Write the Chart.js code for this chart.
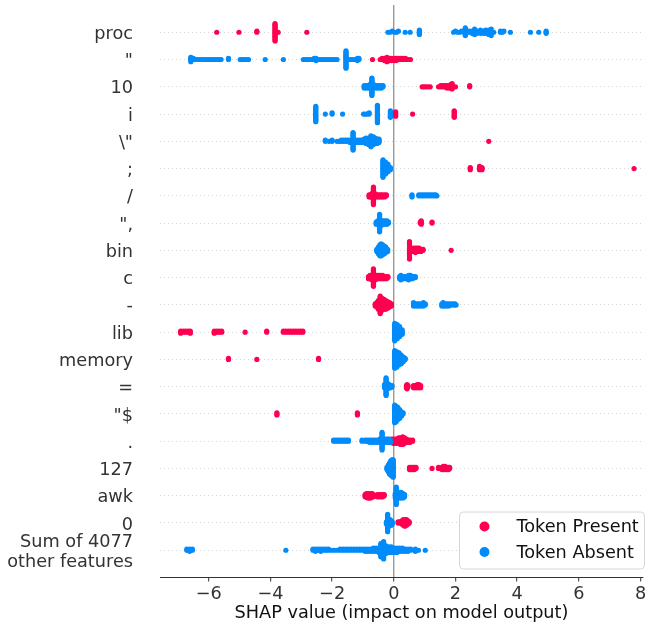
<!DOCTYPE html>
<html>
<head>
<meta charset="utf-8">
<script src="https://cdn.jsdelivr.net/npm/chart.js@4.4.1/dist/chart.umd.min.js"></script>
<style>
  html, body { margin: 0; padding: 0; background: #fff; }
  #wrap { width: 648px; height: 629px; }
</style>
</head>
<body>
<div id="wrap"><canvas id="c" width="648" height="629"></canvas></div>
<script>
// ---- Data (SHAP values; pairs are [value, count]) ----
const features = ['proc', '"', '10', 'i', '\\"', ';', '/', '",', 'bin', 'c', '-', 'lib', 'memory', '=', '"$', '.', '127', 'awk', '0', ['Sum of 4077', 'other features']];
const xTicks = [-6, -4, -2, 0, 2, 4, 6, 8];
const seriesNames = ['Token Present', 'Token Absent'];

const procPresent = [[-5.74,1],[-5.02,1],[-4.44,2],[-3.85,17],[-3.75,1],[-2.82,1]];
const procAbsent = [[-0.19,1],[-0.12,1],[-0.05,1],[0.02,1],[0.09,1],[0.15,1],[0.37,1],[0.53,1],[0.83,5],
  [1.94,1],[2.0,1],[2.07,1],[2.14,1],[2.2,1],[2.27,2],[2.32,6],[2.38,2],[2.45,2],[2.54,3],[2.62,3],[2.7,3],[2.81,4],[2.9,3],[2.98,4],[3.08,5],[3.16,2],[3.24,1],[3.46,2],[3.52,1],[3.57,1],[3.78,1],[4.43,1],[4.7,1],[4.94,3]];

const quotePresent = [[-0.69,1],[-0.44,1],[-0.38,2],[-0.3,3],[-0.22,5],[-0.15,3],[-0.08,3],[0.0,3],[0.08,3],[0.15,2],[0.23,2],[0.3,2],[0.38,2],[0.46,1],[0.54,1]];
const quoteAbsent = [[-6.58,5],[-6.5,2],[-6.43,1],[-6.36,1],[-6.29,1],[-6.22,1],[-6.15,1],[-6.08,1],[-6.01,1],[-5.94,1],[-5.87,1],[-5.8,1],[-5.73,1],[-5.66,1],[-5.6,1],[-5.36,2],
  [-4.98,1],[-4.92,1],[-4.85,1],[-4.78,1],[-4.71,1],[-4.17,1],[-3.58,1],[-2.93,1],[-2.86,1],[-2.79,1],[-2.72,1],[-2.65,1],[-2.58,2],[-2.52,3],[-2.45,1],[-2.38,1],[-2.31,1],[-2.24,1],[-2.17,1],[-2.1,1],[-2.03,1],[-1.96,1],[-1.9,1],[-1.84,1],
  [-1.55,17],[-1.47,1],[-1.4,1],[-1.33,1],[-1.25,1],[-1.18,3],[-1.13,2]];

const tenPresent = [[0.92,1],[0.98,1],[1.04,1],[1.11,1],[1.18,1],[1.45,1],[1.52,2],[1.58,2],[1.65,2],[1.72,3],[1.79,3],[1.85,4],[1.89,6],[2.0,1],[2.46,2]];
const tenAbsent = [[-0.96,3],[-0.9,3],[-0.84,3],[-0.78,4],[-0.71,17],[-0.65,4],[-0.58,3],[-0.52,3],[-0.45,3],[-0.4,3],[-0.35,2]];

const iPresent = [[0.06,5],[0.61,1],[1.96,7]];
const iAbsent = [[-2.53,15],[-2.22,1],[-2.0,2],[-1.66,1],[-0.98,1],[-0.92,1],[-0.86,1],[-0.8,2],[-0.53,17],[-0.11,7]];

const escQuotePresent = [[3.08,1]];
const escQuoteAbsent = [[-2.22,2],[-2.1,1],[-2.0,2],[-1.84,1],[-1.77,1],[-1.7,2],[-1.63,2],[-1.56,2],[-1.49,2],[-1.42,3],[-1.32,17],[-1.25,3],[-1.18,3],[-1.1,3],[-1.03,3],[-0.96,4],[-0.9,6],[-0.82,7],[-0.74,11],[-0.66,8],[-0.6,6],[-0.54,5],[-0.48,4]];

const semiPresent = [[2.48,3],[2.78,4],[2.86,3],[7.79,1]];
const semiAbsent = [[-0.35,17],[-0.27,12],[-0.19,8],[-0.11,3]];

const slashPresent = [[-0.8,3],[-0.75,3],[-0.71,4],[-0.66,17],[-0.61,4],[-0.55,3],[-0.49,3],[-0.43,3],[-0.37,3],[-0.3,3],[-0.24,2]];
const slashAbsent = [[0.59,3],[0.81,2],[0.88,2],[0.95,2],[1.02,2],[1.09,2],[1.16,2],[1.23,2],[1.3,2],[1.36,2],[1.4,1]];

const quoteCommaPresent = [[0.86,2],[0.89,4],[1.24,2]];
const quoteCommaAbsent = [[-0.57,3],[-0.52,4],[-0.46,17],[-0.4,5],[-0.34,4],[-0.28,4],[-0.22,4],[-0.17,2]];

const binPresent = [[0.51,17],[0.58,3],[0.64,4],[0.7,5],[0.76,4],[0.82,4],[0.88,3],[0.95,2],[1.86,1]];
const binAbsent = [[-0.55,3],[-0.5,7],[-0.45,11],[-0.41,12],[-0.36,10],[-0.31,8],[-0.26,6],[-0.2,3]];

const cPresent = [[-0.82,3],[-0.77,4],[-0.71,5],[-0.66,17],[-0.6,5],[-0.54,4],[-0.48,4],[-0.42,4],[-0.36,4],[-0.3,3],[-0.24,3],[-0.19,2]];
const cAbsent = [[0.19,3],[0.23,5],[0.29,3],[0.35,3],[0.42,3],[0.48,5],[0.54,4],[0.6,3],[0.65,2],[0.7,2]];

const dashPresent = [[-0.6,3],[-0.55,5],[-0.5,9],[-0.44,17],[-0.38,12],[-0.32,10],[-0.26,9],[-0.2,7],[-0.14,5],[-0.08,3]];
const dashAbsent = [[0.64,4],[0.7,3],[0.77,3],[0.83,3],[0.9,3],[0.96,4],[1.02,2],[1.56,3],[1.6,4],[1.66,3],[1.72,3],[1.78,3],[1.85,2],[1.92,2],[1.98,2],[2.02,1]];

const libPresent = [[-6.91,3],[-6.83,2],[-6.75,2],[-6.67,2],[-6.6,3],[-5.82,3],[-5.74,2],[-5.66,2],[-5.58,2],[-4.82,1],[-4.12,2],
  [-3.58,2],[-3.5,2],[-3.42,2],[-3.34,2],[-3.26,2],[-3.18,2],[-3.1,2],[-3.02,2],[-2.95,2]];
const libAbsent = [[0.03,17],[0.11,14],[0.19,10],[0.27,5]];

const memoryPresent = [[-5.36,2],[-4.44,1],[-2.44,2]];
const memoryAbsent = [[0.03,17],[0.1,15],[0.17,12],[0.24,9],[0.31,5],[0.37,2]];

const equalsPresent = [[0.41,3],[0.43,5],[0.46,2],[0.64,3],[0.7,3],[0.76,4],[0.82,4],[0.87,3]];
const equalsAbsent = [[-0.3,4],[-0.25,17],[-0.2,6],[-0.15,4],[-0.1,3],[-0.06,2]];

const quoteDollarPresent = [[-3.79,3],[-1.18,3]];
const quoteDollarAbsent = [[0.03,17],[0.08,15],[0.13,12],[0.19,9],[0.25,5],[0.3,2]];

const dotPresent = [[-0.08,4],[-0.02,5],[0.04,5],[0.1,5],[0.16,6],[0.22,7],[0.29,8],[0.35,6],[0.41,4],[0.47,3],[0.53,3],[0.61,2]];
const dotAbsent = [[-1.95,2],[-1.88,2],[-1.81,2],[-1.74,2],[-1.67,2],[-1.6,2],[-1.53,2],[-1.47,2],[-1.03,2],[-0.93,2],[-0.86,2],[-0.79,3],[-0.72,3],[-0.65,3],[-0.58,3],[-0.51,3],[-0.45,4],[-0.38,17],[-0.32,4],[-0.26,4],[-0.2,4],[-0.15,4],[-0.11,3]];

const n127Present = [[0.51,3],[0.56,3],[0.62,3],[0.67,3],[0.72,2],[1.24,1],[1.45,2],[1.56,3],[1.61,4],[1.66,4],[1.72,3],[1.78,3],[1.81,2]];
const n127Absent = [[-0.22,3],[-0.18,7],[-0.14,11],[-0.1,14],[-0.06,16],[-0.02,17]];

const awkPresent = [[-0.93,3],[-0.89,4],[-0.85,5],[-0.8,5],[-0.75,5],[-0.7,4],[-0.66,3],[-0.53,3],[-0.47,3],[-0.41,3],[-0.36,3],[-0.31,2]];
const awkAbsent = [[0.05,5],[0.08,17],[0.13,6],[0.18,6],[0.24,6],[0.3,5],[0.35,3]];

const zeroPresent = [[0.14,2],[0.2,2],[0.26,4],[0.31,6],[0.36,7],[0.41,6],[0.46,4],[0.5,2]];
const zeroAbsent = [[-0.24,3],[-0.2,17],[-0.16,7],[-0.12,6],[-0.08,5],[-0.05,3]];

const sumPresent = [];
const sumAbsent = [[-6.71,2],[-6.62,3],[-6.53,2],[-3.5,1],[-2.62,2],[-2.54,3],[-2.45,2],[-2.37,3],[-2.28,2],[-2.2,2],[-2.12,2],[-2.03,1],[-1.94,1],[-1.84,1],
  [-1.74,2],[-1.65,2],[-1.56,2],[-1.47,2],[-1.38,2],[-1.29,2],[-1.2,2],[-1.11,2],[-1.02,2],[-0.93,3],[-0.84,3],[-0.75,3],[-0.66,4],[-0.57,4],[-0.48,5],[-0.42,8],[-0.33,17],[-0.25,8],
  [-0.16,6],[-0.08,6],[0.01,5],[0.1,5],[0.19,4],[0.28,4],[0.37,3],[0.46,3],[0.55,2],[0.7,3],[0.8,1],[1.02,1]];

const presentRows = [procPresent, quotePresent, tenPresent, iPresent, escQuotePresent, semiPresent, slashPresent, quoteCommaPresent, binPresent, cPresent, dashPresent, libPresent, memoryPresent, equalsPresent, quoteDollarPresent, dotPresent, n127Present, awkPresent, zeroPresent, sumPresent];
const absentRows = [procAbsent, quoteAbsent, tenAbsent, iAbsent, escQuoteAbsent, semiAbsent, slashAbsent, quoteCommaAbsent, binAbsent, cAbsent, dashAbsent, libAbsent, memoryAbsent, equalsAbsent, quoteDollarAbsent, dotAbsent, n127Absent, awkAbsent, zeroAbsent, sumAbsent];

const COLOR_PRESENT = '#ff0051';
const COLOR_ABSENT = '#008bfb';

// ---- Beeswarm layout (same binning/stacking rule as shap's beeswarm) ----
function swarmRow(rowIdx, absent, present, outAbsent, outPresent) {
  const pts = [];
  absent.forEach(([v, c]) => { for (let k = 0; k < c; k++) pts.push({ v, col: 0 }); });
  present.forEach(([v, c]) => { for (let k = 0; k < c; k++) pts.push({ v, col: 1 }); });
  if (!pts.length) return;
  const vals = pts.map(p => p.v);
  const mn = Math.min(...vals), mx = Math.max(...vals);
  const nbins = 100;
  pts.forEach((p, i) => { p.q = Math.round(nbins * (p.v - mn) / (mx - mn + 1e-8)); p.i = i; });
  const order = pts.slice().sort((a, b) => a.q - b.q || a.i - b.i);
  let layer = 0, last = -1;
  order.forEach(p => {
    if (p.q !== last) layer = 0;
    p.ys = Math.ceil(layer / 2) * ((layer % 2) * 2 - 1);
    layer++;
    last = p.q;
  });
  const maxY = Math.max(...pts.map(p => p.ys + 1));
  const scale = 0.9 * (0.4 / maxY);
  const base = features.length - 1 - rowIdx;
  pts.forEach(p => {
    const pt = { x: p.v, y: base + p.ys * scale };
    (p.col === 0 ? outAbsent : outPresent).push(pt);
  });
}

const absentPts = [], presentPts = [];
features.forEach((f, i) => swarmRow(i, absentRows[i], presentRows[i], absentPts, presentPts));

const FONT = 'DejaVu Sans';
const FS = 17.7;
Chart.defaults.font.family = FONT;

const legendPlugin = {
  id: 'boxLegend',
  afterDraw(chart) {
    const ctx = chart.ctx;
    const a = chart.chartArea;
    const w = 185, h = 57;
    const x = a.right - w + 1.5, y = a.bottom - h - 8.5;
    ctx.save();
    ctx.beginPath();
    const r = 4;
    ctx.moveTo(x + r, y);
    ctx.lineTo(x + w - r, y); ctx.quadraticCurveTo(x + w, y, x + w, y + r);
    ctx.lineTo(x + w, y + h - r); ctx.quadraticCurveTo(x + w, y + h, x + w - r, y + h);
    ctx.lineTo(x + r, y + h); ctx.quadraticCurveTo(x, y + h, x, y + h - r);
    ctx.lineTo(x, y + r); ctx.quadraticCurveTo(x, y, x + r, y);
    ctx.closePath();
    ctx.fillStyle = 'rgba(255,255,255,0.8)';
    ctx.fill();
    ctx.strokeStyle = '#d6d6d6';
    ctx.lineWidth = 1;
    ctx.stroke();
    const colors = [COLOR_PRESENT, COLOR_ABSENT];
    seriesNames.forEach((name, i) => {
      const cy = y + 14.5 + i * 25.5;
      ctx.beginPath();
      ctx.arc(x + 25, cy, 5, 0, Math.PI * 2);
      ctx.fillStyle = colors[i];
      ctx.fill();
      ctx.fillStyle = '#111';
      ctx.font = FS + 'px "' + FONT + '"';
      ctx.textAlign = 'left';
      ctx.textBaseline = 'middle';
      ctx.fillText(name, x + 57, cy + 1);
    });
    ctx.restore();
  }
};

new Chart(document.getElementById('c'), {
  type: 'scatter',
  data: {
    datasets: [
      { label: seriesNames[1], data: absentPts, backgroundColor: COLOR_ABSENT, pointRadius: 2.6, pointHoverRadius: 2.6, borderWidth: 0, pointBorderWidth: 0 },
      { label: seriesNames[0], data: presentPts, backgroundColor: COLOR_PRESENT, pointRadius: 2.6, pointHoverRadius: 2.6, borderWidth: 0, pointBorderWidth: 0 }
    ]
  },
  options: {
    responsive: false,
    animation: false,
    events: [],
    layout: { padding: { top: 5, right: 5, left: 0, bottom: 0 } },
    plugins: { legend: { display: false }, tooltip: { enabled: false } },
    scales: {
      x: {
        type: 'linear',
        min: -7.58,
        max: 8.08,
        afterBuildTicks: s => { s.ticks = xTicks.map(v => ({ value: v })); },
        afterFit: s => { s.height = 51.5; s.paddingLeft = 0; s.paddingRight = 0; },
        ticks: {
          callback: v => (v < 0 ? '\u2212' + Math.abs(v) : String(v)),
          font: { family: FONT, size: FS },
          color: '#333',
          padding: 2,
          maxRotation: 0,
          autoSkip: false
        },
        grid: {
          drawOnChartArea: true,
          drawTicks: true,
          tickLength: 4,
          tickColor: '#333',
          tickWidth: 1,
          color: c => (c.tick && c.tick.value === 0 ? '#9a9a9a' : 'rgba(0,0,0,0)'),
          lineWidth: 1.4
        },
        border: { display: true, color: '#333', width: 1 },
        title: {
          display: true,
          text: 'SHAP value (impact on model output)',
          font: { family: FONT, size: FS },
          color: '#111',
          padding: { top: 0, bottom: 5 }
        }
      },
      y: {
        type: 'linear',
        min: -1,
        max: 20,
        afterBuildTicks: s => { s.ticks = features.map((f, i) => ({ value: i })); },
        afterFit: s => { s.width = 160; s.paddingTop = 0; s.paddingBottom = 0; },
        ticks: {
          callback: v => features[features.length - 1 - v],
          font: { family: FONT, size: FS, lineHeight: 1.13 },
          color: '#333',
          padding: 27,
          labelOffset: 2,
          autoSkip: false
        },
        grid: {
          drawTicks: false,
          color: '#cccccc',
          lineWidth: 0.8
        },
        border: { display: false, dash: [1, 3] }
      }
    }
  },
  plugins: [legendPlugin]
});
</script>
</body>
</html>
